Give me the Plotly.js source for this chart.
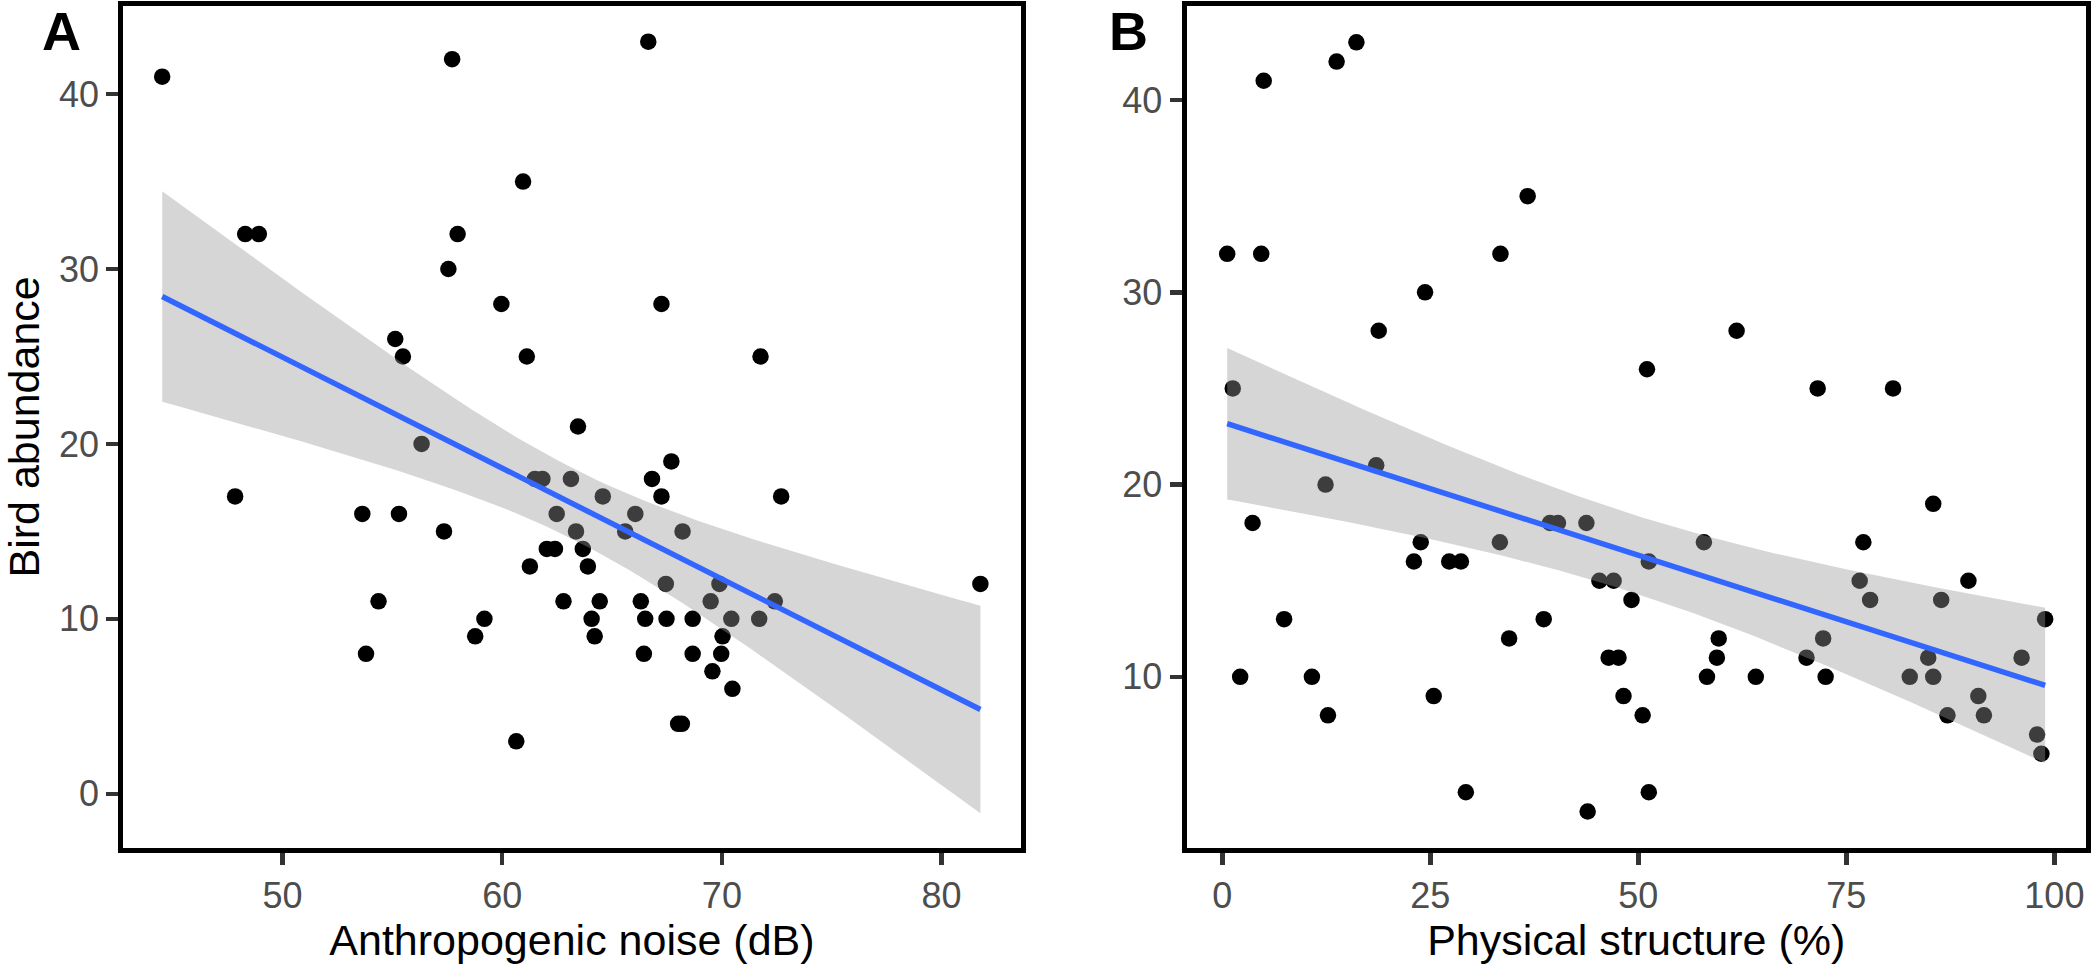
<!DOCTYPE html>
<html>
<head>
<meta charset="utf-8">
<script src="https://cdn.plot.ly/plotly-3.0.1.min.js"></script>
<style>
    html, body { margin: 0; padding: 0; background: #ffffff; }
    #chart { width: 2091px; height: 966px; }
</style>
</head>
<body>
<div id="chart"></div>
<script>
// Panel A: anthropogenic noise (dB) vs bird abundance
var noiseDb = [
    44.52, 57.72, 66.65, 48.30, 48.92, 60.95, 57.97, 57.55, 59.96, 67.25,
    55.13, 55.48, 61.12, 71.76, 63.45, 56.33, 67.70, 61.49, 61.83, 63.13,
    66.82, 47.84, 64.58, 67.25, 72.70, 53.63, 55.30, 62.48, 66.06, 57.35,
    63.36, 65.60, 68.21, 62.03, 62.40, 63.67, 61.26, 63.90, 67.45, 69.89,
    81.77, 54.37, 62.79, 64.44, 66.31, 69.49, 72.41, 59.19, 64.07, 66.51,
    67.48, 68.67, 70.43, 71.70, 58.77, 64.21, 70.03, 53.80, 66.45, 68.67,
    69.97, 69.57, 70.48, 68.01, 68.18, 60.64
];
var abundanceA = [
    41, 42, 43, 32, 32, 35, 32, 30, 28, 28,
    26, 25, 25, 25, 21, 20, 19, 18, 18, 18,
    18, 17, 17, 17, 17, 16, 16, 16, 16, 15,
    15, 15, 15, 14, 14, 14, 13, 13, 12, 12,
    12, 11, 11, 11, 11, 11, 11, 10, 10, 10,
    10, 10, 10, 10, 9, 9, 9, 8, 8, 8,
    8, 7, 6, 4, 4, 3
];

// Panel B: physical structure (%) vs bird abundance
var structurePct = [
    0.59, 4.68, 4.98, 13.74, 16.12, 36.70, 33.43, 24.37, 18.80, 61.81,
    51.04, 1.26, 71.55, 80.61, 18.50, 12.41, 85.44, 3.64, 39.38, 40.34,
    43.76, 23.85, 33.36, 57.88, 77.04, 23.03, 27.27, 28.68, 51.26, 45.32,
    47.03, 76.60, 89.67, 49.18, 77.86, 86.40, 7.43, 38.63, 98.89, 34.47,
    59.66, 72.21, 46.43, 47.62, 59.44, 70.21, 84.84, 96.06, 2.15, 10.77,
    58.25, 64.12, 72.51, 82.62, 85.44, 25.41, 48.22, 90.86, 12.70, 50.52,
    87.15, 91.53, 97.92, 98.44, 29.27, 51.26, 43.91
];
var abundanceB = [
    32, 32, 41, 42, 43, 35, 32, 30, 28, 28,
    26, 25, 25, 25, 21, 20, 19, 18, 18, 18,
    18, 17, 17, 17, 17, 16, 16, 16, 16, 15,
    15, 15, 15, 14, 14, 14, 13, 13, 13, 12,
    12, 12, 11, 11, 11, 11, 11, 11, 10, 10,
    10, 10, 10, 10, 10, 9, 9, 9, 8, 8,
    8, 8, 7, 6, 4, 4, 3
];

var ticksNoise = [50, 60, 70, 80];
var ticksStructure = [0, 25, 50, 75, 100];
var ticksAbundanceA = [0, 10, 20, 30, 40];
var ticksAbundanceB = [10, 20, 30, 40];

// t quantile (0.975) for ~65 degrees of freedom, as geom_smooth(method = "lm")
var tQuantile = 1.998;
var smoothPoints = 80;

function getLinearRegressionData(x, y)
{
    var n = x.length;
    var meanX = 0, meanY = 0;
    for (var i = 0; i < n; i++) { meanX += x[i]; meanY += y[i]; }
    meanX /= n; meanY /= n;

    var sxx = 0, sxy = 0;
    for (var i = 0; i < n; i++)
    {
        sxx += (x[i] - meanX) * (x[i] - meanX);
        sxy += (x[i] - meanX) * (y[i] - meanY);
    }
    var m = sxy / sxx;
    var b = meanY - m * meanX;

    var sse = 0;
    for (var i = 0; i < n; i++)
    {
        var r = y[i] - (m * x[i] + b);
        sse += r * r;
    }
    var sigma = Math.sqrt(sse / (n - 2));

    var minX = Math.min.apply(null, x);
    var maxX = Math.max.apply(null, x);

    var lineX = [], lineY = [], lower = [], upper = [];
    for (var k = 0; k < smoothPoints; k++)
    {
        var xv = minX + (maxX - minX) * k / (smoothPoints - 1);
        var fit = m * xv + b;
        var se = sigma * Math.sqrt(1 / n + (xv - meanX) * (xv - meanX) / sxx);
        lineX.push(xv);
        lineY.push(fit);
        lower.push(fit - tQuantile * se);
        upper.push(fit + tQuantile * se);
    }

    // closed polygon for the confidence ribbon
    var ribbonX = lineX.concat(lineX.slice().reverse());
    var ribbonY = upper.concat(lower.slice().reverse());

    return { x: lineX, y: lineY, ribbonX: ribbonX, ribbonY: ribbonY };
}

function panelTraces(x, y, xaxis, yaxis)
{
    var reg = getLinearRegressionData(x, y);
    return [
        {
            x: x, y: y, xaxis: xaxis, yaxis: yaxis,
            type: "scatter", mode: "markers",
            marker: { color: "#000000", size: 16.5, line: { width: 0 } },
            hoverinfo: "skip"
        },
        {
            x: reg.ribbonX, y: reg.ribbonY, xaxis: xaxis, yaxis: yaxis,
            type: "scatter", mode: "lines", fill: "toself",
            fillcolor: "rgba(153,153,153,0.4)", line: { width: 0 },
            hoverinfo: "skip"
        },
        {
            x: reg.x, y: reg.y, xaxis: xaxis, yaxis: yaxis,
            type: "scatter", mode: "lines",
            line: { color: "#3366FF", width: 5.5 },
            hoverinfo: "skip"
        }
    ];
}

var fontFamily = "Liberation Sans, Arial, sans-serif";

function axisBase(extra)
{
    var axis = {
        showline: true, mirror: true, linecolor: "#000000", linewidth: 5,
        showgrid: false, zeroline: false,
        ticks: "outside", ticklen: 12, tickwidth: 4.5, tickcolor: "#333333",
        tickfont: { family: fontFamily, size: 36, color: "#4D4D4D" },
        fixedrange: true
    };
    for (var key in extra) axis[key] = extra[key];
    return axis;
}

var titleFont = { family: fontFamily, size: 43, color: "#000000" };

var data = panelTraces(noiseDb, abundanceA, "x", "y")
    .concat(panelTraces(structurePct, abundanceB, "x2", "y2"));

var layout = {
    width: 2091, height: 966,
    margin: { l: 0, r: 0, t: 0, b: 0 },
    paper_bgcolor: "#ffffff", plot_bgcolor: "#ffffff",
    showlegend: false,
    xaxis: axisBase({
        domain: [123.3 / 2091, 1020.6 / 2091], range: [42.75, 83.6],
        tickvals: ticksNoise, anchor: "y",
        title: { text: "Anthropogenic noise (dB)", font: titleFont, standoff: 4 }
    }),
    yaxis: axisBase({
        domain: [118 / 966, 960.2 / 966], range: [-3.1, 45.05],
        tickvals: ticksAbundanceA, anchor: "x",
        title: { text: "Bird abundance", font: titleFont, standoff: 14 }
    }),
    xaxis2: axisBase({
        domain: [1186.5 / 2091, 2086 / 2091], range: [-4.3, 103.8],
        tickvals: ticksStructure, anchor: "y2",
        title: { text: "Physical structure (%)", font: titleFont, standoff: 4 }
    }),
    yaxis2: axisBase({
        domain: [118 / 966, 960.2 / 966], range: [1.1, 44.9],
        tickvals: ticksAbundanceB, anchor: "x2"
    }),
    annotations: [
        {
            text: "<b>A</b>", xref: "paper", yref: "paper",
            x: 61.7 / 2091, y: 1, xanchor: "center", yanchor: "top",
            showarrow: false, borderpad: 0,
            font: { family: fontFamily, size: 54, color: "#000000" }
        },
        {
            text: "<b>B</b>", xref: "paper", yref: "paper",
            x: 1128.5 / 2091, y: 1, xanchor: "center", yanchor: "top",
            showarrow: false, borderpad: 0,
            font: { family: fontFamily, size: 54, color: "#000000" }
        }
    ]
};

var config = { displayModeBar: false, staticPlot: true };

Plotly.newPlot("chart", data, layout, config);
</script>
</body>
</html>
